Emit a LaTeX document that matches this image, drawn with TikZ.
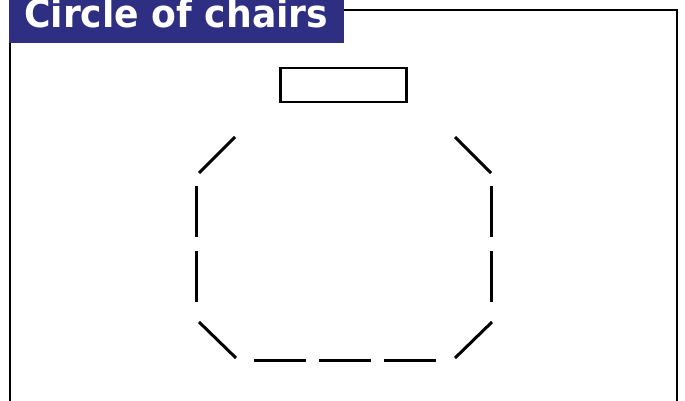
\documentclass[tikz,border=0pt]{standalone}
\usepackage{fontspec}
\newfontfamily\titlefont{DejaVu Sans Condensed}
\definecolor{titleblue}{RGB}{46,46,130}
\begin{document}
\begin{tikzpicture}[x=1pt,y=-1pt,
  seg/.style={line width=3pt,black},
  frame/.style={line width=2.2pt,black}]
\useasboundingbox (0,0) rectangle (685,401);
\draw[frame] (10,402) -- (10,10) -- (677,10) -- (677,402);
\fill[titleblue] (9,-1) rectangle (344,43);
\node[anchor=base west,inner sep=0pt,text=white] (title) at (24,28)
  {\resizebox{304pt}{\height}{\fontsize{38.5}{40}\titlefont\bfseries Circle of chairs}};
\node[draw,line width=2.5pt,minimum width=126pt,minimum height=34pt,inner sep=0pt] (table) at (343.5,85) {};
% chairs
\coordinate (a1) at (199,173); \coordinate (a2) at (235,137);
\coordinate (b1) at (196,186); \coordinate (b2) at (196,237);
\coordinate (c1) at (196,251); \coordinate (c2) at (196,302);
\coordinate (d1) at (199,322); \coordinate (d2) at (236,358);
\coordinate (e1) at (254,360); \coordinate (e2) at (306,360);
\coordinate (f1) at (319,360); \coordinate (f2) at (371,360);
\coordinate (g1) at (384,360); \coordinate (g2) at (436,360);
\coordinate (h1) at (455,358); \coordinate (h2) at (492,322);
\coordinate (i1) at (491,302); \coordinate (i2) at (491,251);
\coordinate (j1) at (491,237); \coordinate (j2) at (491,186);
\coordinate (k1) at (491,173); \coordinate (k2) at (455,137);
\foreach \s in {a,b,c,d,e,f,g,h,i,j,k} \draw[seg] (\s1) -- (\s2);
\end{tikzpicture}
\end{document}
